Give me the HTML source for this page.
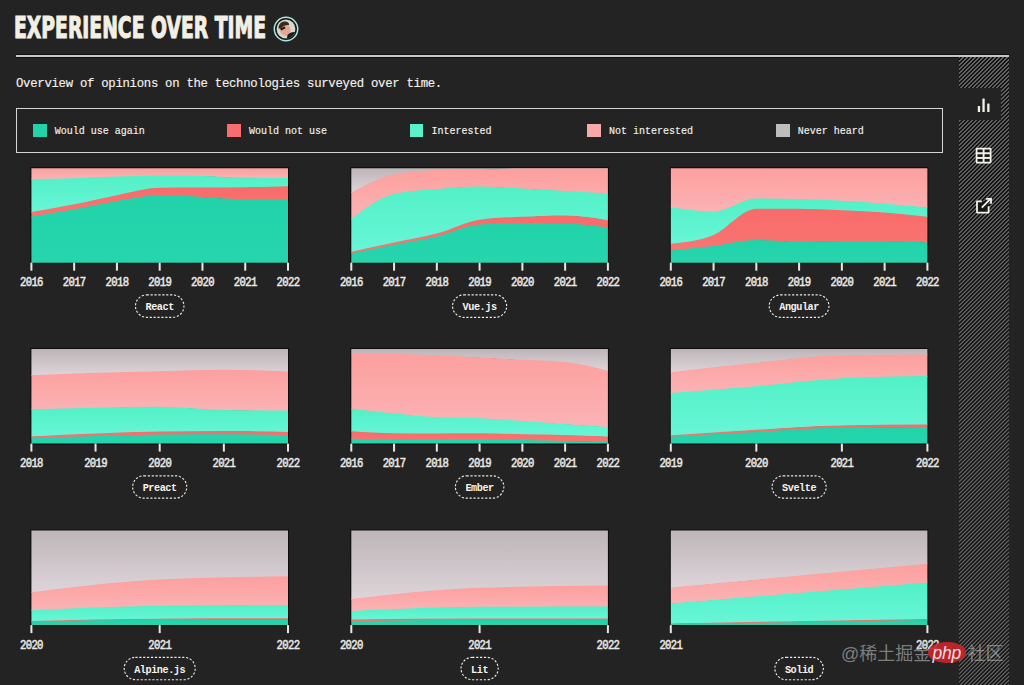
<!DOCTYPE html>
<html lang="en">
<head>
<meta charset="utf-8">
<title>Experience over time</title>
<style>
  html, body { margin: 0; padding: 0; }
  body {
    width: 1024px; height: 685px; overflow: hidden; position: relative;
    background: #232323;
    font-family: "Liberation Mono", monospace;
    color: #ece8e0;
  }
  .title {
    position: absolute; left: 14.4px; top: 8.3px;
    font-family: "DejaVu Sans", sans-serif; font-stretch: condensed; font-weight: bold;
    font-size: 30.6px; line-height: 40px; letter-spacing: 0;
    color: #f3efe4; -webkit-text-stroke: 1.1px #f3efe4; transform-origin: 0 0; transform: scaleX(0.682);
    white-space: nowrap; margin: 0;
  }
  .avatar { position: absolute; left: 273.2px; top: 16px; }
  .rule { position: absolute; left: 16px; top: 55px; width: 993px; height: 2px; background: #c8c6c4; box-shadow: 0 -1px 0 #121212, 0 1px 0 #121212; }
  .side {
    position: absolute; left: 959px; top: 57px; width: 50px; height: 628px;
    background: repeating-linear-gradient(135deg, #646464 0px, #646464 1.0px, #141414 1.35px, #141414 2.5px, #646464 2.83px);
  }
  .tab { position: absolute; left: 957px; top: 88px; width: 44px; height: 32px; background: #232323; }
  .desc {
    position: absolute; left: 16px; top: 76.3px; font-size: 12.3px; letter-spacing: -0.28px; line-height: 16px;
    white-space: nowrap; color: #f4f1ec; -webkit-text-stroke: 0.15px #f4f1ec;
  }
  .legend {
    position: absolute; left: 15.5px; top: 108px; width: 925px; height: 43px;
    border: 1.5px solid #d8d6d2;
  }
  .li { position: absolute; top: 124px; height: 13px; font-size: 10px; line-height: 13px; white-space: nowrap; color: #f4f1ec; -webkit-text-stroke: 0.15px #f4f1ec; }
  .li i { position: absolute; left: 0; top: 0; width: 13.5px; height: 13px; }
  .li span { position: absolute; left: 21.5px; top: 0.5px; }
  svg.charts { position: absolute; left: 0; top: 0; }
  .yr { font-family: "Liberation Mono", monospace; font-weight: normal; font-size: 10.6px; letter-spacing: -0.65px; fill: #ebe8e3; stroke: #ebe8e3; stroke-width: 0.45px; text-anchor: middle; }
  .bt { font-family: "Liberation Mono", monospace; font-weight: bold; font-size: 10.2px; letter-spacing: -0.45px; fill: #f6f3ee; text-anchor: middle; }
  .btn {
    position: absolute; transform: translateX(-50%); height: 23px; line-height: 23px;
    padding: 0 10px; border: 1px dashed #e2ded6; border-radius: 13px;
    font-weight: bold; font-size: 10px; color: #f3efe6; white-space: nowrap;
  }
  .wm { position: absolute; font-family: "Liberation Sans", "Noto Sans CJK SC", sans-serif; font-size: 18px; line-height: 22px;
    color: rgba(185,185,185,0.62); white-space: nowrap; top: 642.6px; }
  .wmp { position: absolute; left: 927.6px; top: 642px; width: 38.8px; height: 20.8px; border-radius: 50%;
    background: rgba(200,38,44,0.92); }
  .wmp span { position: absolute; left: 5px; top: -0.5px; font-family: "Liberation Sans", sans-serif; font-style: italic;
    font-size: 17.5px; line-height: 22px; color: rgba(250,240,240,0.92); letter-spacing: -0.3px; }
</style>
</head>
<body>
  <h2 class="title">EXPERIENCE OVER TIME</h2>
  <svg class="avatar" width="26" height="26" viewBox="0 0 26 26">
    <circle cx="13" cy="13" r="11.7" fill="#141816" stroke="#aee8da" stroke-width="1.5"/>
    <circle cx="13" cy="13" r="9.4" fill="#d6d8d0"/>
    <clipPath id="av"><circle cx="13" cy="13" r="9.4"/></clipPath>
    <g clip-path="url(#av)">
      <ellipse cx="12" cy="13.5" rx="5.4" ry="6.4" transform="rotate(-20 12 13.5)" fill="#e2a890"/>
      <path d="M5.5 12.5 C5.5 7.5 9 5 12.5 5.5 C15.5 6 16.5 7.5 16 9 C13.5 8.5 10.5 9.5 8 12.5 Z" fill="#3b2b25"/>
      <path d="M7 12.8 L11.5 10.6 L12.6 12.2 L8.3 14.6 Z" fill="#241816"/>
      <path d="M13.5 24 L14.5 19 C16.5 16.5 19.5 15.5 23 16 L23 24 Z" fill="#1c1c20"/>
    </g>
  </svg>
  <div class="rule"></div>
  <div class="side"></div>
  <div class="tab"></div>
  <svg style="position:absolute;left:976px;top:96px" width="16" height="18" viewBox="0 0 16 18">
    <rect x="1.8" y="10" width="2.3" height="6" rx="0.6" fill="#f4f1ea"/>
    <rect x="6.4" y="2.6" width="2.3" height="13.4" rx="0.6" fill="#f4f1ea"/>
    <rect x="11.2" y="7.5" width="2.3" height="8.5" rx="0.6" fill="#f4f1ea"/>
  </svg>
  <svg style="position:absolute;left:975px;top:147px" width="17" height="17" viewBox="0 0 17 17">
    <rect x="1.6" y="1.6" width="14" height="14" rx="0.5" fill="#161616" stroke="#f4f1ea" stroke-width="1.8"/>
    <line x1="8.6" y1="1.6" x2="8.6" y2="15.6" stroke="#f4f1ea" stroke-width="1.9"/>
    <line x1="1.6" y1="6.27" x2="15.6" y2="6.27" stroke="#f4f1ea" stroke-width="2"/>
    <line x1="1.6" y1="10.93" x2="15.6" y2="10.93" stroke="#f4f1ea" stroke-width="2"/>
  </svg>
  <svg style="position:absolute;left:975px;top:197px" width="18" height="18" viewBox="0 0 18 18">
    <rect x="2" y="4.3" width="11.6" height="11.3" fill="#161616"/>
    <path d="M6.9 4.3 H2 V15.6 H13.6 V9.3" fill="none" stroke="#f4f1ea" stroke-width="1.8" stroke-linejoin="round"/>
    <path d="M6.8 10.6 L15.2 2.2" fill="none" stroke="#f4f1ea" stroke-width="1.8"/>
    <path d="M11 1.9 H16 V6.8" fill="none" stroke="#f4f1ea" stroke-width="1.8"/>
  </svg>
  <p class="desc" style="margin:0">Overview of opinions on the technologies surveyed over time.</p>
  <div class="legend"></div>
  <div class="li" style="left:33.3px"><i style="background:#22d3aa"></i><span>Would use again</span></div>
  <div class="li" style="left:227.4px"><i style="background:#f86e6e"></i><span>Would not use</span></div>
  <div class="li" style="left:409.9px"><i style="background:#5af2cd"></i><span>Interested</span></div>
  <div class="li" style="left:587.4px"><i style="background:#faa8a8"></i><span>Not interested</span></div>
  <div class="li" style="left:776.3px"><i style="background:#bdbdbd"></i><span>Never heard</span></div>
<svg class="charts" width="1024" height="685" viewBox="0 0 1024 685"><defs><linearGradient id="gNever" x1="0" y1="0" x2="0" y2="1"><stop offset="0" stop-color="#bdb5b8"/><stop offset="1" stop-color="#ddd5d9"/></linearGradient><linearGradient id="gNot" x1="0" y1="0" x2="0" y2="1"><stop offset="0" stop-color="#fd9f9e"/><stop offset="1" stop-color="#fbb3b6"/></linearGradient><linearGradient id="gInt" x1="0" y1="0" x2="0" y2="1"><stop offset="0" stop-color="#52f0c6"/><stop offset="1" stop-color="#68f6d8"/></linearGradient><linearGradient id="gWn" x1="0" y1="0" x2="0" y2="1"><stop offset="0" stop-color="#f86b6b"/><stop offset="1" stop-color="#f87672"/></linearGradient><linearGradient id="gW" x1="0" y1="0" x2="0" y2="1"><stop offset="0" stop-color="#22d3aa"/><stop offset="1" stop-color="#26d5ad"/></linearGradient></defs><rect x="30.40" y="167.20" width="258.60" height="96.50" fill="#0d0b0c"/><path d="M31.40,168.20C45.66,168.20 59.91,168.20 74.17,168.20C88.42,168.20 102.68,168.20 116.93,168.20C131.19,168.20 145.44,168.20 159.70,168.20C173.96,168.20 188.21,168.20 202.47,168.20C216.72,168.20 230.98,168.20 245.23,168.20C259.49,168.20 273.74,168.20 288.00,168.20L288.00,178.60C273.74,178.55 259.49,178.50 245.23,178.30C230.98,178.10 216.72,176.87 202.47,176.60C188.21,176.33 173.96,176.20 159.70,176.20C145.44,176.20 131.19,176.85 116.93,177.30C102.68,177.75 88.42,178.50 74.17,178.90C59.91,179.30 45.66,179.50 31.40,179.70Z" fill="url(#gNot)"/><path d="M31.40,179.00C45.66,178.80 59.91,178.60 74.17,178.20C88.42,177.80 102.68,177.05 116.93,176.60C131.19,176.15 145.44,175.50 159.70,175.50C173.96,175.50 188.21,175.63 202.47,175.90C216.72,176.17 230.98,177.40 245.23,177.60C259.49,177.80 273.74,177.85 288.00,177.90L288.00,186.90C273.74,187.35 259.49,187.80 245.23,188.00C230.98,188.20 216.72,188.22 202.47,188.30C188.21,188.38 173.96,188.37 159.70,188.50C145.44,188.63 131.19,193.15 116.93,195.90C102.68,198.65 88.42,202.20 74.17,205.00C59.91,207.80 45.66,210.25 31.40,212.70Z" fill="url(#gInt)"/><path d="M31.40,212.00C45.66,209.55 59.91,207.10 74.17,204.30C88.42,201.50 102.68,197.95 116.93,195.20C131.19,192.45 145.44,187.93 159.70,187.80C173.96,187.67 188.21,187.68 202.47,187.60C216.72,187.52 230.98,187.50 245.23,187.30C259.49,187.10 273.74,186.65 288.00,186.20L288.00,200.00C273.74,200.00 259.49,200.00 245.23,200.00C230.98,200.00 216.72,198.27 202.47,197.60C188.21,196.93 173.96,196.00 159.70,196.00C145.44,196.00 131.19,199.38 116.93,201.70C102.68,204.02 88.42,207.30 74.17,209.90C59.91,212.50 45.66,214.90 31.40,217.30Z" fill="url(#gWn)"/><path d="M31.40,216.60C45.66,214.20 59.91,211.80 74.17,209.20C88.42,206.60 102.68,203.32 116.93,201.00C131.19,198.68 145.44,195.30 159.70,195.30C173.96,195.30 188.21,196.23 202.47,196.90C216.72,197.57 230.98,199.30 245.23,199.30C259.49,199.30 273.74,199.30 288.00,199.30L288.00,262.70C273.74,262.70 259.49,262.70 245.23,262.70C230.98,262.70 216.72,262.70 202.47,262.70C188.21,262.70 173.96,262.70 159.70,262.70C145.44,262.70 131.19,262.70 116.93,262.70C102.68,262.70 88.42,262.70 74.17,262.70C59.91,262.70 45.66,262.70 31.40,262.70Z" fill="url(#gW)"/><rect x="30.40" y="262.70" width="2" height="8" fill="#ebe7e0"/><text transform="translate(31.40,286.30) scale(1,1.17)" class="yr">2016</text><rect x="73.17" y="262.70" width="2" height="8" fill="#ebe7e0"/><text transform="translate(74.17,286.30) scale(1,1.17)" class="yr">2017</text><rect x="115.93" y="262.70" width="2" height="8" fill="#ebe7e0"/><text transform="translate(116.93,286.30) scale(1,1.17)" class="yr">2018</text><rect x="158.70" y="262.70" width="2" height="8" fill="#ebe7e0"/><text transform="translate(159.70,286.30) scale(1,1.17)" class="yr">2019</text><rect x="201.47" y="262.70" width="2" height="8" fill="#ebe7e0"/><text transform="translate(202.47,286.30) scale(1,1.17)" class="yr">2020</text><rect x="244.23" y="262.70" width="2" height="8" fill="#ebe7e0"/><text transform="translate(245.23,286.30) scale(1,1.17)" class="yr">2021</text><rect x="287.00" y="262.70" width="2" height="8" fill="#ebe7e0"/><text transform="translate(288.00,286.30) scale(1,1.17)" class="yr">2022</text><rect x="135.48" y="294.90" width="48.45" height="22.4" rx="11.2" fill="none" stroke="#ebe8e3" stroke-width="1.15" stroke-dasharray="2.2 1.7"/><text x="159.70" y="310.30" class="bt">React</text><rect x="350.30" y="167.20" width="258.60" height="96.50" fill="#0d0b0c"/><path d="M351.30,168.20C365.56,168.20 379.81,168.20 394.07,168.20C408.32,168.20 422.58,168.20 436.83,168.20C451.09,168.20 465.34,168.20 479.60,168.20C493.86,168.20 508.11,168.20 522.37,168.20C536.62,168.20 550.88,168.20 565.13,168.20C579.39,168.20 593.64,168.20 607.90,168.20L607.90,169.20C593.64,169.20 579.39,169.20 565.13,169.20C550.88,169.20 536.62,169.20 522.37,169.20C508.11,169.20 493.86,169.85 479.60,170.10C465.34,170.35 451.09,170.30 436.83,170.70C422.58,171.10 408.32,172.23 394.07,175.30C379.81,178.37 365.56,185.78 351.30,193.20Z" fill="url(#gNever)"/><path d="M351.30,192.50C365.56,185.08 379.81,177.67 394.07,174.60C408.32,171.53 422.58,170.40 436.83,170.00C451.09,169.60 465.34,169.65 479.60,169.40C493.86,169.15 508.11,168.50 522.37,168.50C536.62,168.50 550.88,168.50 565.13,168.50C579.39,168.50 593.64,168.50 607.90,168.50L607.90,194.20C593.64,193.38 579.39,192.55 565.13,191.70C550.88,190.85 536.62,189.87 522.37,189.10C508.11,188.33 493.86,187.10 479.60,187.10C465.34,187.10 451.09,188.43 436.83,189.70C422.58,190.97 408.32,191.37 394.07,194.70C379.81,198.03 365.56,208.87 351.30,219.70Z" fill="url(#gNot)"/><path d="M351.30,219.00C365.56,208.17 379.81,197.33 394.07,194.00C408.32,190.67 422.58,190.27 436.83,189.00C451.09,187.73 465.34,186.40 479.60,186.40C493.86,186.40 508.11,187.63 522.37,188.40C536.62,189.17 550.88,190.15 565.13,191.00C579.39,191.85 593.64,192.68 607.90,193.50L607.90,220.90C593.64,218.50 579.39,216.10 565.13,216.10C550.88,216.10 536.62,216.78 522.37,217.50C508.11,218.22 493.86,218.47 479.60,220.40C465.34,222.33 451.09,230.50 436.83,234.30C422.58,238.10 408.32,240.17 394.07,243.20C379.81,246.23 365.56,249.37 351.30,252.50Z" fill="url(#gInt)"/><path d="M351.30,251.80C365.56,248.67 379.81,245.53 394.07,242.50C408.32,239.47 422.58,237.40 436.83,233.60C451.09,229.80 465.34,221.63 479.60,219.70C493.86,217.77 508.11,217.52 522.37,216.80C536.62,216.08 550.88,215.40 565.13,215.40C579.39,215.40 593.64,217.80 607.90,220.20L607.90,228.20C593.64,226.25 579.39,224.30 565.13,224.10C550.88,223.90 536.62,223.80 522.37,223.80C508.11,223.80 493.86,224.27 479.60,225.20C465.34,226.13 451.09,233.82 436.83,237.20C422.58,240.58 408.32,242.68 394.07,245.50C379.81,248.32 365.56,251.21 351.30,254.10Z" fill="url(#gWn)"/><path d="M351.30,253.40C365.56,250.51 379.81,247.62 394.07,244.80C408.32,241.98 422.58,239.88 436.83,236.50C451.09,233.12 465.34,225.43 479.60,224.50C493.86,223.57 508.11,223.10 522.37,223.10C536.62,223.10 550.88,223.20 565.13,223.40C579.39,223.60 593.64,225.55 607.90,227.50L607.90,262.70C593.64,262.70 579.39,262.70 565.13,262.70C550.88,262.70 536.62,262.70 522.37,262.70C508.11,262.70 493.86,262.70 479.60,262.70C465.34,262.70 451.09,262.70 436.83,262.70C422.58,262.70 408.32,262.70 394.07,262.70C379.81,262.70 365.56,262.70 351.30,262.70Z" fill="url(#gW)"/><rect x="350.30" y="262.70" width="2" height="8" fill="#ebe7e0"/><text transform="translate(351.30,286.30) scale(1,1.17)" class="yr">2016</text><rect x="393.07" y="262.70" width="2" height="8" fill="#ebe7e0"/><text transform="translate(394.07,286.30) scale(1,1.17)" class="yr">2017</text><rect x="435.83" y="262.70" width="2" height="8" fill="#ebe7e0"/><text transform="translate(436.83,286.30) scale(1,1.17)" class="yr">2018</text><rect x="478.60" y="262.70" width="2" height="8" fill="#ebe7e0"/><text transform="translate(479.60,286.30) scale(1,1.17)" class="yr">2019</text><rect x="521.37" y="262.70" width="2" height="8" fill="#ebe7e0"/><text transform="translate(522.37,286.30) scale(1,1.17)" class="yr">2020</text><rect x="564.13" y="262.70" width="2" height="8" fill="#ebe7e0"/><text transform="translate(565.13,286.30) scale(1,1.17)" class="yr">2021</text><rect x="606.90" y="262.70" width="2" height="8" fill="#ebe7e0"/><text transform="translate(607.90,286.30) scale(1,1.17)" class="yr">2022</text><rect x="452.55" y="294.90" width="54.10" height="22.4" rx="11.2" fill="none" stroke="#ebe8e3" stroke-width="1.15" stroke-dasharray="2.2 1.7"/><text x="479.60" y="310.30" class="bt">Vue.js</text><rect x="669.80" y="167.20" width="258.60" height="96.50" fill="#0d0b0c"/><path d="M670.80,168.20C685.06,168.20 699.31,168.20 713.57,168.20C727.82,168.20 742.08,168.20 756.33,168.20C770.59,168.20 784.84,168.20 799.10,168.20C813.36,168.20 827.61,168.20 841.87,168.20C856.12,168.20 870.38,168.20 884.63,168.20C898.89,168.20 913.14,168.20 927.40,168.20L927.40,208.10C913.14,206.80 898.89,205.50 884.63,204.40C870.38,203.30 856.12,202.27 841.87,201.50C827.61,200.73 813.36,200.13 799.10,199.80C784.84,199.47 770.59,199.30 756.33,199.30C742.08,199.30 727.82,212.40 713.57,212.40C699.31,212.40 685.06,210.20 670.80,208.00Z" fill="url(#gNot)"/><path d="M670.80,207.30C685.06,209.50 699.31,211.70 713.57,211.70C727.82,211.70 742.08,198.60 756.33,198.60C770.59,198.60 784.84,198.77 799.10,199.10C813.36,199.43 827.61,200.03 841.87,200.80C856.12,201.57 870.38,202.60 884.63,203.70C898.89,204.80 913.14,206.10 927.40,207.40L927.40,217.50C913.14,215.89 898.89,214.28 884.63,213.20C870.38,212.12 856.12,211.62 841.87,211.00C827.61,210.38 813.36,209.50 799.10,209.50C784.84,209.50 770.59,209.50 756.33,209.50C742.08,209.50 727.82,229.87 713.57,235.70C699.31,241.53 685.06,243.02 670.80,244.50Z" fill="url(#gInt)"/><path d="M670.80,243.80C685.06,242.32 699.31,240.83 713.57,235.00C727.82,229.17 742.08,208.80 756.33,208.80C770.59,208.80 784.84,208.80 799.10,208.80C813.36,208.80 827.61,209.68 841.87,210.30C856.12,210.92 870.38,211.42 884.63,212.50C898.89,213.58 913.14,215.19 927.40,216.80L927.40,243.10C913.14,242.35 898.89,241.60 884.63,241.60C870.38,241.60 856.12,241.60 841.87,241.60C827.61,241.60 813.36,242.30 799.10,242.30C784.84,242.30 770.59,240.80 756.33,240.80C742.08,240.80 727.82,244.98 713.57,246.70C699.31,248.42 685.06,249.76 670.80,251.10Z" fill="url(#gWn)"/><path d="M670.80,250.40C685.06,249.06 699.31,247.72 713.57,246.00C727.82,244.28 742.08,240.10 756.33,240.10C770.59,240.10 784.84,241.60 799.10,241.60C813.36,241.60 827.61,240.90 841.87,240.90C856.12,240.90 870.38,240.90 884.63,240.90C898.89,240.90 913.14,241.65 927.40,242.40L927.40,262.70C913.14,262.70 898.89,262.70 884.63,262.70C870.38,262.70 856.12,262.70 841.87,262.70C827.61,262.70 813.36,262.70 799.10,262.70C784.84,262.70 770.59,262.70 756.33,262.70C742.08,262.70 727.82,262.70 713.57,262.70C699.31,262.70 685.06,262.70 670.80,262.70Z" fill="url(#gW)"/><rect x="669.80" y="262.70" width="2" height="8" fill="#ebe7e0"/><text transform="translate(670.80,286.30) scale(1,1.17)" class="yr">2016</text><rect x="712.57" y="262.70" width="2" height="8" fill="#ebe7e0"/><text transform="translate(713.57,286.30) scale(1,1.17)" class="yr">2017</text><rect x="755.33" y="262.70" width="2" height="8" fill="#ebe7e0"/><text transform="translate(756.33,286.30) scale(1,1.17)" class="yr">2018</text><rect x="798.10" y="262.70" width="2" height="8" fill="#ebe7e0"/><text transform="translate(799.10,286.30) scale(1,1.17)" class="yr">2019</text><rect x="840.87" y="262.70" width="2" height="8" fill="#ebe7e0"/><text transform="translate(841.87,286.30) scale(1,1.17)" class="yr">2020</text><rect x="883.63" y="262.70" width="2" height="8" fill="#ebe7e0"/><text transform="translate(884.63,286.30) scale(1,1.17)" class="yr">2021</text><rect x="926.40" y="262.70" width="2" height="8" fill="#ebe7e0"/><text transform="translate(927.40,286.30) scale(1,1.17)" class="yr">2022</text><rect x="769.22" y="294.90" width="59.75" height="22.4" rx="11.2" fill="none" stroke="#ebe8e3" stroke-width="1.15" stroke-dasharray="2.2 1.7"/><text x="799.10" y="310.30" class="bt">Angular</text><rect x="30.40" y="348.10" width="258.60" height="96.50" fill="#0d0b0c"/><path d="M31.40,349.10C52.78,349.10 74.17,349.10 95.55,349.10C116.93,349.10 138.32,349.10 159.70,349.10C181.08,349.10 202.47,349.10 223.85,349.10C245.23,349.10 266.62,349.10 288.00,349.10L288.00,372.20C266.62,371.35 245.23,370.50 223.85,370.50C202.47,370.50 181.08,371.42 159.70,371.90C138.32,372.38 116.93,372.73 95.55,373.40C74.17,374.07 52.78,374.98 31.40,375.90Z" fill="url(#gNever)"/><path d="M31.40,375.20C52.78,374.28 74.17,373.37 95.55,372.70C116.93,372.03 138.32,371.68 159.70,371.20C181.08,370.72 202.47,369.80 223.85,369.80C245.23,369.80 266.62,370.65 288.00,371.50L288.00,411.30C266.62,411.18 245.23,411.07 223.85,410.60C202.47,410.13 181.08,407.50 159.70,407.50C138.32,407.50 116.93,408.00 95.55,408.40C74.17,408.80 52.78,409.35 31.40,409.90Z" fill="url(#gNot)"/><path d="M31.40,409.20C52.78,408.65 74.17,408.10 95.55,407.70C116.93,407.30 138.32,406.80 159.70,406.80C181.08,406.80 202.47,409.43 223.85,409.90C245.23,410.37 266.62,410.48 288.00,410.60L288.00,432.70C266.62,432.20 245.23,431.70 223.85,431.70C202.47,431.70 181.08,431.87 159.70,432.20C138.32,432.53 116.93,433.38 95.55,434.20C74.17,435.02 52.78,436.06 31.40,437.10Z" fill="url(#gInt)"/><path d="M31.40,436.40C52.78,435.36 74.17,434.32 95.55,433.50C116.93,432.68 138.32,431.83 159.70,431.50C181.08,431.17 202.47,431.00 223.85,431.00C245.23,431.00 266.62,431.50 288.00,432.00L288.00,436.00C266.62,435.45 245.23,434.90 223.85,434.90C202.47,434.90 181.08,435.03 159.70,435.30C138.32,435.57 116.93,436.20 95.55,436.80C74.17,437.40 52.78,438.15 31.40,438.90Z" fill="url(#gWn)"/><path d="M31.40,438.20C52.78,437.45 74.17,436.70 95.55,436.10C116.93,435.50 138.32,434.87 159.70,434.60C181.08,434.33 202.47,434.20 223.85,434.20C245.23,434.20 266.62,434.75 288.00,435.30L288.00,443.60C266.62,443.60 245.23,443.60 223.85,443.60C202.47,443.60 181.08,443.60 159.70,443.60C138.32,443.60 116.93,443.60 95.55,443.60C74.17,443.60 52.78,443.60 31.40,443.60Z" fill="url(#gW)"/><rect x="30.40" y="443.60" width="2" height="8" fill="#ebe7e0"/><text transform="translate(31.40,467.20) scale(1,1.17)" class="yr">2018</text><rect x="94.55" y="443.60" width="2" height="8" fill="#ebe7e0"/><text transform="translate(95.55,467.20) scale(1,1.17)" class="yr">2019</text><rect x="158.70" y="443.60" width="2" height="8" fill="#ebe7e0"/><text transform="translate(159.70,467.20) scale(1,1.17)" class="yr">2020</text><rect x="222.85" y="443.60" width="2" height="8" fill="#ebe7e0"/><text transform="translate(223.85,467.20) scale(1,1.17)" class="yr">2021</text><rect x="287.00" y="443.60" width="2" height="8" fill="#ebe7e0"/><text transform="translate(288.00,467.20) scale(1,1.17)" class="yr">2022</text><rect x="132.65" y="475.80" width="54.10" height="22.4" rx="11.2" fill="none" stroke="#ebe8e3" stroke-width="1.15" stroke-dasharray="2.2 1.7"/><text x="159.70" y="491.20" class="bt">Preact</text><rect x="350.30" y="348.10" width="258.60" height="96.50" fill="#0d0b0c"/><path d="M351.30,349.10C365.56,349.10 379.81,349.10 394.07,349.10C408.32,349.10 422.58,349.10 436.83,349.10C451.09,349.10 465.34,349.10 479.60,349.10C493.86,349.10 508.11,349.10 522.37,349.10C536.62,349.10 550.88,349.10 565.13,349.10C579.39,349.10 593.64,349.10 607.90,349.10L607.90,371.50C593.64,367.87 579.39,364.23 565.13,362.70C550.88,361.17 536.62,361.17 522.37,360.40C508.11,359.63 493.86,358.83 479.60,358.10C465.34,357.37 451.09,356.60 436.83,356.00C422.58,355.40 408.32,354.87 394.07,354.50C379.81,354.13 365.56,353.97 351.30,353.80Z" fill="url(#gNever)"/><path d="M351.30,353.10C365.56,353.27 379.81,353.43 394.07,353.80C408.32,354.17 422.58,354.70 436.83,355.30C451.09,355.90 465.34,356.67 479.60,357.40C493.86,358.13 508.11,358.93 522.37,359.70C536.62,360.47 550.88,360.47 565.13,362.00C579.39,363.53 593.64,367.17 607.90,370.80L607.90,427.60C593.64,426.59 579.39,425.58 565.13,424.60C550.88,423.62 536.62,422.65 522.37,421.70C508.11,420.75 493.86,419.50 479.60,418.90C465.34,418.30 451.09,418.60 436.83,418.00C422.58,417.40 408.32,415.73 394.07,414.30C379.81,412.87 365.56,411.13 351.30,409.40Z" fill="url(#gNot)"/><path d="M351.30,408.70C365.56,410.43 379.81,412.17 394.07,413.60C408.32,415.03 422.58,416.70 436.83,417.30C451.09,417.90 465.34,417.60 479.60,418.20C493.86,418.80 508.11,420.05 522.37,421.00C536.62,421.95 550.88,422.92 565.13,423.90C579.39,424.88 593.64,425.89 607.90,426.90L607.90,437.10C593.64,436.58 579.39,436.07 565.13,435.70C550.88,435.33 536.62,435.18 522.37,434.90C508.11,434.62 493.86,434.00 479.60,434.00C465.34,434.00 451.09,434.20 436.83,434.20C422.58,434.20 408.32,434.10 394.07,433.90C379.81,433.70 365.56,432.85 351.30,432.00Z" fill="url(#gInt)"/><path d="M351.30,431.30C365.56,432.15 379.81,433.00 394.07,433.20C408.32,433.40 422.58,433.50 436.83,433.50C451.09,433.50 465.34,433.30 479.60,433.30C493.86,433.30 508.11,433.92 522.37,434.20C536.62,434.48 550.88,434.63 565.13,435.00C579.39,435.37 593.64,435.88 607.90,436.40L607.90,442.30C593.64,442.08 579.39,441.85 565.13,441.60C550.88,441.35 536.62,441.05 522.37,440.80C508.11,440.55 493.86,440.10 479.60,440.10C465.34,440.10 451.09,440.10 436.83,440.10C422.58,440.10 408.32,440.10 394.07,440.10C379.81,440.10 365.56,439.75 351.30,439.40Z" fill="url(#gWn)"/><path d="M351.30,438.70C365.56,439.05 379.81,439.40 394.07,439.40C408.32,439.40 422.58,439.40 436.83,439.40C451.09,439.40 465.34,439.40 479.60,439.40C493.86,439.40 508.11,439.85 522.37,440.10C536.62,440.35 550.88,440.65 565.13,440.90C579.39,441.15 593.64,441.38 607.90,441.60L607.90,443.60C593.64,443.60 579.39,443.60 565.13,443.60C550.88,443.60 536.62,443.60 522.37,443.60C508.11,443.60 493.86,443.60 479.60,443.60C465.34,443.60 451.09,443.60 436.83,443.60C422.58,443.60 408.32,443.60 394.07,443.60C379.81,443.60 365.56,443.60 351.30,443.60Z" fill="url(#gW)"/><rect x="350.30" y="443.60" width="2" height="8" fill="#ebe7e0"/><text transform="translate(351.30,467.20) scale(1,1.17)" class="yr">2016</text><rect x="393.07" y="443.60" width="2" height="8" fill="#ebe7e0"/><text transform="translate(394.07,467.20) scale(1,1.17)" class="yr">2017</text><rect x="435.83" y="443.60" width="2" height="8" fill="#ebe7e0"/><text transform="translate(436.83,467.20) scale(1,1.17)" class="yr">2018</text><rect x="478.60" y="443.60" width="2" height="8" fill="#ebe7e0"/><text transform="translate(479.60,467.20) scale(1,1.17)" class="yr">2019</text><rect x="521.37" y="443.60" width="2" height="8" fill="#ebe7e0"/><text transform="translate(522.37,467.20) scale(1,1.17)" class="yr">2020</text><rect x="564.13" y="443.60" width="2" height="8" fill="#ebe7e0"/><text transform="translate(565.13,467.20) scale(1,1.17)" class="yr">2021</text><rect x="606.90" y="443.60" width="2" height="8" fill="#ebe7e0"/><text transform="translate(607.90,467.20) scale(1,1.17)" class="yr">2022</text><rect x="455.38" y="475.80" width="48.45" height="22.4" rx="11.2" fill="none" stroke="#ebe8e3" stroke-width="1.15" stroke-dasharray="2.2 1.7"/><text x="479.60" y="491.20" class="bt">Ember</text><rect x="669.80" y="348.10" width="258.60" height="96.50" fill="#0d0b0c"/><path d="M670.80,349.10C699.31,349.10 727.82,349.10 756.33,349.10C784.84,349.10 813.36,349.10 841.87,349.10C870.38,349.10 898.89,349.10 927.40,349.10L927.40,355.30C898.89,355.42 870.38,355.53 841.87,356.00C813.36,356.47 784.84,360.57 756.33,363.40C727.82,366.23 699.31,369.62 670.80,373.00Z" fill="url(#gNever)"/><path d="M670.80,372.30C699.31,368.92 727.82,365.53 756.33,362.70C784.84,359.87 813.36,355.77 841.87,355.30C870.38,354.83 898.89,354.72 927.40,354.60L927.40,376.70C898.89,377.07 870.38,377.43 841.87,378.90C813.36,380.37 784.84,384.53 756.33,387.00C727.82,389.47 699.31,391.58 670.80,393.70Z" fill="url(#gNot)"/><path d="M670.80,393.00C699.31,390.88 727.82,388.77 756.33,386.30C784.84,383.83 813.36,379.67 841.87,378.20C870.38,376.73 898.89,376.37 927.40,376.00L927.40,425.30C898.89,425.43 870.38,425.57 841.87,426.10C813.36,426.63 784.84,428.85 756.33,430.50C727.82,432.15 699.31,434.07 670.80,436.00Z" fill="url(#gInt)"/><path d="M670.80,435.30C699.31,433.37 727.82,431.45 756.33,429.80C784.84,428.15 813.36,425.93 841.87,425.40C870.38,424.87 898.89,424.73 927.40,424.60L927.40,427.60C898.89,427.72 870.38,427.83 841.87,428.30C813.36,428.77 784.84,431.18 756.33,432.70C727.82,434.22 699.31,435.81 670.80,437.40Z" fill="url(#gWn)"/><path d="M670.80,436.70C699.31,435.11 727.82,433.52 756.33,432.00C784.84,430.48 813.36,428.07 841.87,427.60C870.38,427.13 898.89,427.02 927.40,426.90L927.40,443.60C898.89,443.60 870.38,443.60 841.87,443.60C813.36,443.60 784.84,443.60 756.33,443.60C727.82,443.60 699.31,443.60 670.80,443.60Z" fill="url(#gW)"/><rect x="669.80" y="443.60" width="2" height="8" fill="#ebe7e0"/><text transform="translate(670.80,467.20) scale(1,1.17)" class="yr">2019</text><rect x="755.33" y="443.60" width="2" height="8" fill="#ebe7e0"/><text transform="translate(756.33,467.20) scale(1,1.17)" class="yr">2020</text><rect x="840.87" y="443.60" width="2" height="8" fill="#ebe7e0"/><text transform="translate(841.87,467.20) scale(1,1.17)" class="yr">2021</text><rect x="926.40" y="443.60" width="2" height="8" fill="#ebe7e0"/><text transform="translate(927.40,467.20) scale(1,1.17)" class="yr">2022</text><rect x="772.05" y="475.80" width="54.10" height="22.4" rx="11.2" fill="none" stroke="#ebe8e3" stroke-width="1.15" stroke-dasharray="2.2 1.7"/><text x="799.10" y="491.20" class="bt">Svelte</text><rect x="30.40" y="529.60" width="258.60" height="96.50" fill="#0d0b0c"/><path d="M31.40,530.60C74.17,530.60 116.93,530.60 159.70,530.60C202.47,530.60 245.23,530.60 288.00,530.60L288.00,577.00C245.23,577.53 202.47,578.07 159.70,580.20C116.93,582.33 74.17,587.67 31.40,593.00Z" fill="url(#gNever)"/><path d="M31.40,592.30C74.17,586.97 116.93,581.63 159.70,579.50C202.47,577.37 245.23,576.83 288.00,576.30L288.00,605.60C245.23,605.73 202.47,605.87 159.70,606.40C116.93,606.93 74.17,608.92 31.40,610.90Z" fill="url(#gNot)"/><path d="M31.40,610.20C74.17,608.22 116.93,606.23 159.70,605.70C202.47,605.17 245.23,605.03 288.00,604.90L288.00,619.00C245.23,619.07 202.47,619.13 159.70,619.40C116.93,619.67 74.17,620.68 31.40,621.70Z" fill="url(#gInt)"/><path d="M31.40,621.00C74.17,619.98 116.93,618.97 159.70,618.70C202.47,618.43 245.23,618.37 288.00,618.30L288.00,620.50C245.23,620.50 202.47,620.50 159.70,620.50C116.93,620.50 74.17,621.40 31.40,622.30Z" fill="url(#gWn)"/><path d="M31.40,621.60C74.17,620.70 116.93,619.80 159.70,619.80C202.47,619.80 245.23,619.80 288.00,619.80L288.00,625.10C245.23,625.10 202.47,625.10 159.70,625.10C116.93,625.10 74.17,625.10 31.40,625.10Z" fill="url(#gW)"/><rect x="30.40" y="625.10" width="2" height="8" fill="#ebe7e0"/><text transform="translate(31.40,648.70) scale(1,1.17)" class="yr">2020</text><rect x="158.70" y="625.10" width="2" height="8" fill="#ebe7e0"/><text transform="translate(159.70,648.70) scale(1,1.17)" class="yr">2021</text><rect x="287.00" y="625.10" width="2" height="8" fill="#ebe7e0"/><text transform="translate(288.00,648.70) scale(1,1.17)" class="yr">2022</text><rect x="124.18" y="657.30" width="71.05" height="22.4" rx="11.2" fill="none" stroke="#ebe8e3" stroke-width="1.15" stroke-dasharray="2.2 1.7"/><text x="159.70" y="672.70" class="bt">Alpine.js</text><rect x="350.30" y="529.60" width="258.60" height="96.50" fill="#0d0b0c"/><path d="M351.30,530.60C394.07,530.60 436.83,530.60 479.60,530.60C522.37,530.60 565.13,530.60 607.90,530.60L607.90,586.30C565.13,586.67 522.37,587.03 479.60,588.50C436.83,589.97 394.07,594.83 351.30,599.70Z" fill="url(#gNever)"/><path d="M351.30,599.00C394.07,594.13 436.83,589.27 479.60,587.80C522.37,586.33 565.13,585.97 607.90,585.60L607.90,607.10C565.13,607.17 522.37,607.23 479.60,607.50C436.83,607.77 394.07,609.68 351.30,611.60Z" fill="url(#gNot)"/><path d="M351.30,610.90C394.07,608.98 436.83,607.07 479.60,606.80C522.37,606.53 565.13,606.47 607.90,606.40L607.90,619.30C565.13,619.20 522.37,619.10 479.60,619.10C436.83,619.10 394.07,619.65 351.30,620.20Z" fill="url(#gInt)"/><path d="M351.30,619.50C394.07,618.95 436.83,618.40 479.60,618.40C522.37,618.40 565.13,618.50 607.90,618.60L607.90,620.80C565.13,620.65 522.37,620.50 479.60,620.50C436.83,620.50 394.07,621.25 351.30,622.00Z" fill="url(#gWn)"/><path d="M351.30,621.30C394.07,620.55 436.83,619.80 479.60,619.80C522.37,619.80 565.13,619.95 607.90,620.10L607.90,625.10C565.13,625.10 522.37,625.10 479.60,625.10C436.83,625.10 394.07,625.10 351.30,625.10Z" fill="url(#gW)"/><rect x="350.30" y="625.10" width="2" height="8" fill="#ebe7e0"/><text transform="translate(351.30,648.70) scale(1,1.17)" class="yr">2020</text><rect x="478.60" y="625.10" width="2" height="8" fill="#ebe7e0"/><text transform="translate(479.60,648.70) scale(1,1.17)" class="yr">2021</text><rect x="606.90" y="625.10" width="2" height="8" fill="#ebe7e0"/><text transform="translate(607.90,648.70) scale(1,1.17)" class="yr">2022</text><rect x="461.03" y="657.30" width="37.15" height="22.4" rx="11.2" fill="none" stroke="#ebe8e3" stroke-width="1.15" stroke-dasharray="2.2 1.7"/><text x="479.60" y="672.70" class="bt">Lit</text><rect x="669.80" y="529.60" width="258.60" height="96.50" fill="#0d0b0c"/><path d="M670.80,530.60L927.40,530.60L927.40,564.40L670.80,588.30Z" fill="url(#gNever)"/><path d="M670.80,587.60L927.40,563.70L927.40,583.30L670.80,604.10Z" fill="url(#gNot)"/><path d="M670.80,603.40L927.40,582.60L927.40,619.70L670.80,624.10Z" fill="url(#gInt)"/><path d="M670.80,623.40L927.40,619.00L927.40,620.70L670.80,624.90Z" fill="url(#gWn)"/><path d="M670.80,624.20L927.40,620.00L927.40,625.10L670.80,625.10Z" fill="url(#gW)"/><rect x="669.80" y="625.10" width="2" height="8" fill="#ebe7e0"/><text transform="translate(670.80,648.70) scale(1,1.17)" class="yr">2021</text><rect x="926.40" y="625.10" width="2" height="8" fill="#ebe7e0"/><text transform="translate(927.40,648.70) scale(1,1.17)" class="yr">2022</text><rect x="774.87" y="657.30" width="48.45" height="22.4" rx="11.2" fill="none" stroke="#ebe8e3" stroke-width="1.15" stroke-dasharray="2.2 1.7"/><text x="799.10" y="672.70" class="bt">Solid</text></svg>

  <div class="wm" style="left:841px">@稀土掘金</div>
  <div class="wmp"><span>php</span></div>
  <div class="wm" style="left:967.5px">社区</div>
</body>
</html>
